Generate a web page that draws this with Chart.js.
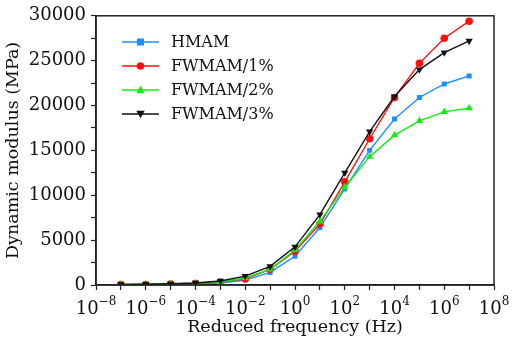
<!DOCTYPE html>
<html>
<head>
<meta charset="utf-8">
<script src="https://cdn.jsdelivr.net/npm/chart.js@4/dist/chart.umd.min.js"></script>
<style>
html,body{margin:0;padding:0;background:#fff;}
#wrap{width:512px;height:340px;position:relative;}
</style>
</head>
<body>
<div id="wrap"><canvas id="c" width="512" height="340"></canvas></div>
<script>
// Reduced frequency (Hz)
const frequencies = [1e-7, 1e-6, 1e-5, 1e-4, 1e-3, 1e-2, 1e-1, 1e0, 1e1, 1e2, 1e3, 1e4, 1e5, 1e6, 1e7];
// Dynamic modulus (MPa)
const hmam   = [30, 50, 80, 130, 220, 550, 1400, 3200, 6400, 10700, 15000, 18500, 20900, 22400, 23300];
const fw1    = [40, 60, 100, 160, 300, 700, 1750, 3750, 6800, 11500, 16300, 20900, 24700, 27500, 29400];
const fw2    = [50, 80, 120, 190, 330, 780, 1750, 3900, 7100, 10900, 14300, 16700, 18300, 19300, 19700];
const fw3    = [60, 90, 140, 230, 450, 990, 2080, 4250, 7850, 12500, 17100, 21000, 24000, 25900, 27200];
const seriesNames = ['HMAM', 'FWMAM/1%', 'FWMAM/2%', 'FWMAM/3%'];
const xTickExponents = [-8,-7,-6,-5,-4,-3,-2,-1,0,1,2,3,4,5,6,7,8];
const xLabelExponents = [-8,-6,-4,-2,0,2,4,6,8];
const yTickValues = [0,2500,5000,7500,10000,12500,15000,17500,20000,22500,25000,27500,30000];

const FONT = "'DejaVu Serif', 'Liberation Serif', serif";
const colors = ['#1b8fff', '#ff1010', '#10ee10', '#111111'];
const styles = ['rect', 'circle', 'triangle', 'triangle'];
const rotations = [0, 0, 0, 180];
const radii = [3.5, 3.8, 4.2, 4.2];
const values = [hmam, fw1, fw2, fw3];

const datasets = seriesNames.map((name, i) => ({
  label: name,
  data: frequencies.map((f, j) => ({x: f, y: values[i][j]})),
  borderColor: colors[i],
  backgroundColor: colors[i],
  borderWidth: 1.4,
  pointStyle: styles[i],
  pointRotation: rotations[i],
  pointRadius: radii[i],
  pointBorderWidth: 0,
  tension: 0,
  order: 3 - i
}));

const framePlugin = {
  id: 'frame',
  afterDraw(chart) {
    const {ctx, chartArea: a} = chart;
    ctx.save();
    ctx.strokeStyle = '#222';
    ctx.lineWidth = 1.5;
    ctx.strokeRect(a.left, a.top, a.right - a.left, a.bottom - a.top);
    ctx.restore();
  }
};

// x tick labels with real superscript exponents, placed by the x scale
const powerLabelPlugin = {
  id: 'powerLabels',
  afterDraw(chart) {
    const {ctx} = chart;
    const xs = chart.scales.x;
    ctx.save();
    ctx.fillStyle = '#111';
    ctx.textBaseline = 'alphabetic';
    ctx.textAlign = 'left';
    xLabelExponents.forEach(e => {
      const px = xs.getPixelForValue(Math.pow(10, e));
      ctx.font = "18px " + FONT;
      const wb = ctx.measureText('10').width;
      const es = String(e).replace('-', '\u2212');
      ctx.font = "12px " + FONT;
      const we = ctx.measureText(es).width;
      const start = px - (wb + we) / 2;
      ctx.font = "18px " + FONT;
      ctx.fillText('10', start, 314);
      ctx.font = "12px " + FONT;
      ctx.fillText(es, start + wb, 305);
    });
    ctx.restore();
  }
};

const legendPlugin = {
  id: 'insideLegend',
  afterDraw(chart) {
    const {ctx} = chart;
    const x0 = 122, x1 = 159, tx = 171;
    const ys = [42, 66, 90, 114];
    ctx.save();
    chart.data.datasets.forEach((ds, i) => {
      const y = ys[i];
      ctx.strokeStyle = ds.borderColor;
      ctx.lineWidth = 1.6;
      ctx.beginPath(); ctx.moveTo(x0, y); ctx.lineTo(x1, y); ctx.stroke();
      ctx.fillStyle = ds.backgroundColor;
      const cx = (x0 + x1) / 2, r = ds.pointRadius;
      ctx.beginPath();
      if (ds.pointStyle === 'rect') {
        ctx.rect(cx - r, y - r, 2 * r, 2 * r);
      } else if (ds.pointStyle === 'circle') {
        ctx.arc(cx, y, r, 0, Math.PI * 2);
      } else {
        const s = ds.pointRotation === 180 ? -1 : 1;
        ctx.moveTo(cx, y - s * r);
        ctx.lineTo(cx - r, y + s * r * 0.75);
        ctx.lineTo(cx + r, y + s * r * 0.75);
        ctx.closePath();
      }
      ctx.fill();
      ctx.fillStyle = '#111';
      ctx.font = "16px " + FONT;
      ctx.textBaseline = 'middle';
      ctx.textAlign = 'left';
      ctx.fillText(ds.label, tx, y + 1);
    });
    ctx.restore();
  }
};

new Chart(document.getElementById('c'), {
  type: 'line',
  data: { datasets },
  plugins: [framePlugin, powerLabelPlugin, legendPlugin],
  options: {
    responsive: false,
    animation: false,
    layout: { padding: { top: 11, right: 18, left: 0, bottom: 0 } },
    plugins: { legend: { display: false }, tooltip: { enabled: false } },
    scales: {
      x: {
        type: 'logarithmic',
        min: 1e-8, max: 1e8,
        afterBuildTicks(scale) { scale.ticks = xTickExponents.map(e => ({ value: Math.pow(10, e) })); },
        afterFit(scale) { scale.height = 55; },
        ticks: {
          autoSkip: false, maxRotation: 0, minRotation: 0,
          color: '#111', padding: 2,
          font: { family: FONT, size: 18 },
          callback() { return ''; }
        },
        grid: {
          drawOnChartArea: false, drawTicks: true, tickLength: 5,
          color: '#222', tickColor: '#222', tickWidth: 1.2
        },
        border: { display: true, color: '#222', width: 1.5 },
        title: {
          display: true, text: 'Reduced frequency (Hz)', color: '#111',
          font: { family: FONT, size: 17.5 }, padding: { top: 0, bottom: 2 }
        }
      },
      y: {
        type: 'linear',
        min: 0, max: 30000,
        afterBuildTicks(scale) { scale.ticks = yTickValues.map(v => ({ value: v })); },
        afterFit(scale) { scale.width = 96; },
        ticks: {
          autoSkip: false, color: '#111', padding: 5,
          font: { family: FONT, size: 18 },
          callback(v) { return v % 5000 === 0 ? String(v) : ''; }
        },
        grid: {
          drawOnChartArea: false, drawTicks: true, tickLength: 5,
          color: '#222', tickColor: '#222', tickWidth: 1.2
        },
        border: { display: true, color: '#222', width: 1.5 },
        title: {
          display: true, text: 'Dynamic modulus (MPa)', color: '#111',
          font: { family: FONT, size: 17.5 }, padding: { top: 3, bottom: 0 }
        }
      }
    }
  }
});
</script>
</body>
</html>
